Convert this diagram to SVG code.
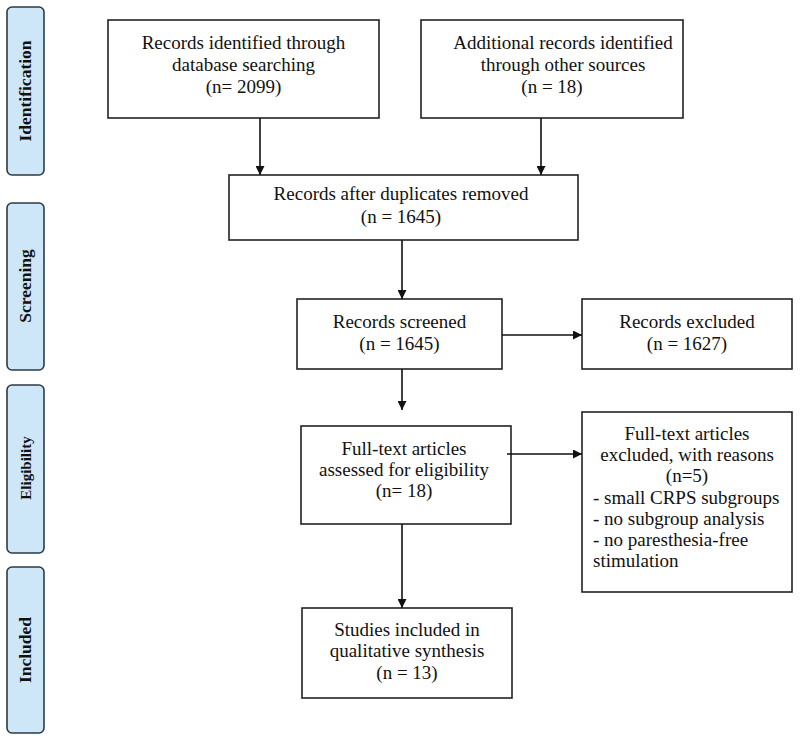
<svg xmlns="http://www.w3.org/2000/svg" width="800" height="743" viewBox="0 0 800 743">
<defs>
<marker id="ah" viewBox="0 0 10 10" refX="10" refY="5" markerWidth="9" markerHeight="9" markerUnits="userSpaceOnUse" orient="auto">
<path d="M0,0 L10,5 L0,10 z" fill="#111"/>
</marker>
<style>
.box{fill:#fff;stroke:#222;stroke-width:1.6}
.side{fill:#cde7f8;stroke:#2e3a42;stroke-width:1.6}
.t{font-family:"Liberation Serif","Times New Roman",serif;font-size:19px;fill:#111;text-anchor:middle}
.tl{font-family:"Liberation Serif","Times New Roman",serif;font-size:19px;fill:#111}
.s{font-family:"Liberation Serif","Times New Roman",serif;font-size:17.5px;font-weight:bold;fill:#111;text-anchor:middle}
.c{stroke:#111;stroke-width:1.6;fill:none;marker-end:url(#ah)}
</style>
</defs>
<rect width="800" height="743" fill="#fff"/>

<g id="stage-identification">
<rect class="side" x="7" y="7" width="37" height="168" rx="5"/>
<text class="s" transform="translate(31,91) rotate(-90)">Identification</text>
</g>
<g id="stage-screening">
<rect class="side" x="7" y="203" width="37" height="167" rx="5"/>
<text class="s" transform="translate(31,286) rotate(-90)">Screening</text>
</g>
<g id="stage-eligibility">
<rect class="side" x="7" y="385" width="37" height="168" rx="5"/>
<text class="s" transform="translate(31,468) rotate(-90)" style="font-size:15px">Eligibility</text>
</g>
<g id="stage-included">
<rect class="side" x="7" y="567" width="37" height="166" rx="5"/>
<text class="s" transform="translate(31,650) rotate(-90)">Included</text>
</g>

<g id="n-database">
<rect class="box" x="108" y="20" width="271" height="98"/>
<text class="t" x="243.5" y="49">Records identified through</text>
<text class="t" x="243.5" y="71">database searching</text>
<text class="t" x="243.5" y="93">(n= 2099)</text>
</g>
<g id="n-other">
<rect class="box" x="421" y="20" width="262" height="98"/>
<text class="t" x="563" y="49">Additional records identified</text>
<text class="t" x="563" y="71">through other sources</text>
<text class="t" x="552" y="93">(n = 18)</text>
</g>
<g id="n-duplicates">
<rect class="box" x="229" y="175" width="349" height="65"/>
<text class="t" x="401" y="200">Records after duplicates removed</text>
<text class="t" x="401" y="223">(n = 1645)</text>
</g>
<g id="n-screened">
<rect class="box" x="297" y="299" width="205" height="70"/>
<text class="t" x="399.5" y="328">Records screened</text>
<text class="t" x="399.5" y="350">(n = 1645)</text>
</g>
<g id="n-excluded">
<rect class="box" x="582" y="299" width="210" height="70"/>
<text class="t" x="687" y="328">Records excluded</text>
<text class="t" x="687" y="350">(n = 1627)</text>
</g>
<g id="n-fulltext">
<rect class="box" x="301" y="426" width="210" height="98"/>
<text class="t" x="404" y="455">Full-text articles</text>
<text class="t" x="404" y="476">assessed for eligibility</text>
<text class="t" x="404" y="497">(n= 18)</text>
</g>
<g id="n-ft-excluded">
<rect class="box" x="582" y="412" width="210" height="180"/>
<text class="t" x="687" y="440">Full-text articles</text>
<text class="t" x="687" y="461">excluded, with reasons</text>
<text class="t" x="687" y="482">(n=5)</text>
<text class="tl" x="593" y="504">- small CRPS subgroups</text>
<text class="tl" x="593" y="525">- no subgroup analysis</text>
<text class="tl" x="593" y="546">- no paresthesia-free</text>
<text class="tl" x="593" y="567">stimulation</text>
</g>
<g id="n-included">
<rect class="box" x="302" y="608" width="210" height="90"/>
<text class="t" x="407" y="636">Studies included in</text>
<text class="t" x="407" y="657">qualitative synthesis</text>
<text class="t" x="407" y="679">(n = 13)</text>
</g>

<g id="connectors">
<line class="c" x1="260" y1="118" x2="260" y2="175"/>
<line class="c" x1="541" y1="118" x2="541" y2="175"/>
<line class="c" x1="402" y1="240" x2="402" y2="299"/>
<line class="c" x1="502" y1="335" x2="582" y2="335"/>
<line class="c" x1="402" y1="369" x2="402" y2="410"/>
<line class="c" x1="507" y1="454" x2="582" y2="454"/>
<line class="c" x1="402" y1="524" x2="402" y2="608"/>
</g>
</svg>
